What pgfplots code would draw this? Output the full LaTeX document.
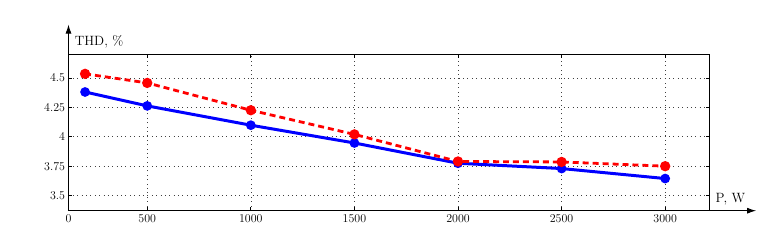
\documentclass[border=0pt]{standalone}
\usepackage{pgfplots}
\pgfplotsset{compat=1.18}
\usetikzlibrary{arrows.meta}
\definecolor{pblue}{RGB}{0,0,255}
\definecolor{pred}{RGB}{255,0,0}
\begin{document}
\begin{tikzpicture}[x=1bp,y=1bp]
\useasboundingbox (0,0) rectangle (773,251);
\begin{axis}[
  at={(68.5bp,40.3bp)}, anchor=south west,
  scale only axis, width=640.8bp, height=156.4bp,
  xmin=120, xmax=3213, ymin=3.372, ymax=4.70,
  xtick={120,500,1000,1500,2000,2500,3000},
  xticklabels={0,500,1000,1500,2000,2500,3000},
  ytick={3.5,3.75,4,4.25,4.5},
  yticklabels={3.5,3.75,4,4.25,4.5},
  grid=major,
  grid style={black!75, line width=0.6pt, dash pattern=on 0.8pt off 3.6pt},
  tick align=inside, major tick length=3.5pt,
  tick style={black, line width=0.7pt},
  axis line style={black, line width=0.9pt},
  ticklabel style={font=\fontsize{12}{14}\selectfont},
  clip=false,
]
\addplot[pblue, line width=3pt, mark=*, mark size=3.3pt, mark options={solid}]
  coordinates {(200,4.38) (500,4.262) (1000,4.098) (1500,3.947) (2000,3.775) (2500,3.73) (3000,3.645)};
\addplot[pred, line width=2.8pt, dash pattern=on 6pt off 4pt, mark=*, mark size=3.7pt, mark options={solid}]
  coordinates {(200,4.534) (500,4.457) (1000,4.225) (1500,4.02) (2000,3.79) (2500,3.786) (3000,3.75)};
\draw[line width=0.9pt, -{Latex[length=9bp,width=6bp]}] (rel axis cs:0,1) -- (rel axis cs:0,1.19);
\draw[line width=0.9pt, -{Latex[length=9bp,width=6bp]}] (rel axis cs:1,0) -- (rel axis cs:1.073,0);
\node[anchor=south west, font=\fontsize{13.5}{15}\selectfont, inner sep=1pt] at (rel axis cs:0.008,1.03) {THD, \%};
\node[anchor=south west, font=\fontsize{13.5}{15}\selectfont, inner sep=1pt] at (rel axis cs:1.008,0.03) {P, W};
\end{axis}
\end{tikzpicture}
\end{document}
